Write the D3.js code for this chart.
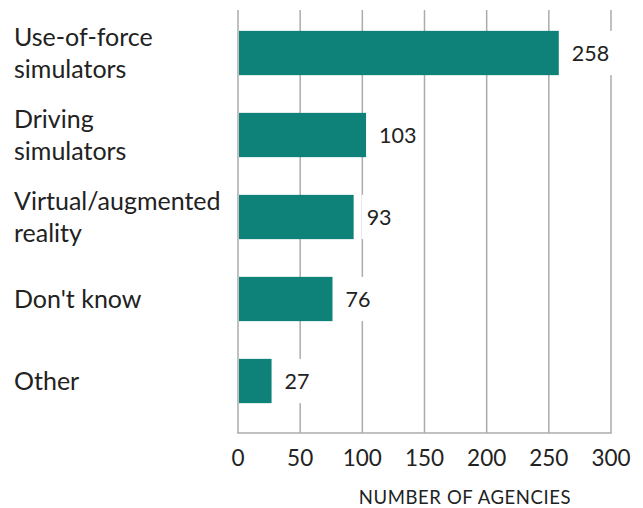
<!DOCTYPE html>
<html><head><meta charset="utf-8">
<script src="https://cdn.jsdelivr.net/npm/d3@7"></script>
<style>body{margin:0;background:#fff}</style>
</head><body>
<svg id="c" width="643" height="508"></svg>
<script>
const categories = [["Use-of-force","simulators"],["Driving","simulators"],["Virtual/augmented","reality"],["Don't know"],["Other"]];
const values = [258, 103, 93, 76, 27];
const tickValues = [0, 50, 100, 150, 200, 250, 300];
const axisTitle = "NUMBER OF AGENCIES";

const svg = d3.select("#c");
const font = "Lato, 'Open Sans', sans-serif";
const x = d3.scaleLinear().domain([0, 300]).range([238, 611]);
const y = d3.scaleBand().domain(d3.range(categories.length)).range([12, 422]).paddingInner(0.46).paddingOuter(0.23);
const teal = "#0e8178", grid = "#ababab";

// gridlines
svg.append("g").selectAll("line").data(tickValues).join("line")
  .attr("x1", d => x(d)).attr("x2", d => x(d)).attr("y1", 10).attr("y2", 433)
  .attr("stroke", grid).attr("stroke-width", 1.5);
svg.append("line").attr("x1", x(0)-0.75).attr("x2", x(300)+0.75).attr("y1", 433).attr("y2", 433)
  .attr("stroke", grid).attr("stroke-width", 1.5);

// value label backgrounds
const lab = svg.append("g");
values.forEach((v, i) => {
  const cy = y(i) + y.bandwidth()/2;
  const t = lab.append("text").attr("x", x(v) + 13).attr("y", cy).attr("dy", "0.35em")
    .attr("font-family", font).attr("font-size", 21.5).attr("fill", "#222").text(v);
  const bb = t.node().getBBox();
  lab.insert("rect", "text").attr("x", bb.x - 5).attr("y", y(i)).attr("width", bb.width + 10)
    .attr("height", y.bandwidth()).attr("fill", "#fff");
});

// bars
svg.append("g").selectAll("rect").data(values).join("rect")
  .attr("x", x(0) + 1).attr("y", (d, i) => y(i)).attr("width", d => x(d) - x(0) - 1)
  .attr("height", y.bandwidth()).attr("fill", teal);

// category labels
categories.forEach((lines, i) => {
  const cy = y(i) + y.bandwidth()/2;
  const lh = 32;
  const t = svg.append("text").attr("font-family", font).attr("font-size", 25).attr("fill", "#222");
  lines.forEach((l, j) => {
    t.append("tspan").attr("x", 14).attr("y", cy + (j - (lines.length - 1)/2) * lh).attr("dy", "0.35em").text(l);
  });
});

// tick labels
svg.append("g").selectAll("text").data(tickValues).join("text")
  .attr("x", d => x(d)).attr("y", 466).attr("text-anchor", "middle")
  .attr("font-family", font).attr("font-size", 22.5).attr("fill", "#222").text(d => d);

svg.append("text").attr("x", 465).attr("y", 504).attr("text-anchor", "middle")
  .attr("font-family", font).attr("font-size", 18.5).attr("fill", "#222").attr("letter-spacing", 0.6).text(axisTitle);
</script>
</body></html>
